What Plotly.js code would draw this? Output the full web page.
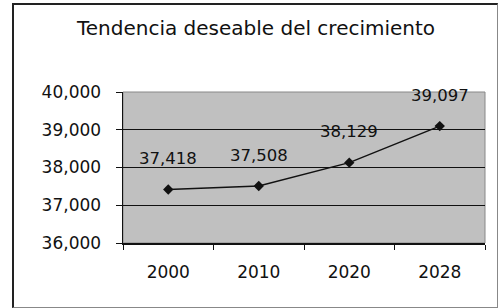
<!DOCTYPE html>
<html>
<head>
<meta charset="utf-8">
<script src="https://cdn.plot.ly/plotly-3.0.1.min.js"></script>
<style>
html,body{margin:0;padding:0;background:#fff;}
#wrap{position:relative;width:502px;height:308px;}
#chart{position:absolute;left:0;top:0;width:502px;height:308px;}
#frame{position:absolute;left:12px;top:3px;width:483px;height:302px;border-left:2px solid #222;border-top:2px solid #222;border-right:1px solid #888;border-bottom:1px solid #888;pointer-events:none;}
</style>
</head>
<body>
<div id="wrap"><div id="chart"></div><div id="frame"></div></div>
<script>
var years = ["2000", "2010", "2020", "2028"];
var values = [37418, 37508, 38129, 39097];
var labels = ["37,418", "37,508", "38,129", "39,097"];
var yTicks = [36000, 37000, 38000, 39000, 40000];
var yTickText = ["36,000", "37,000", "38,000", "39,000", "40,000"];

var font = "DejaVu Sans, Verdana, sans-serif";

var trace = {
  x: years, y: values, type: "scatter", mode: "lines+markers",
  line: {color: "#111", width: 1.5},
  marker: {symbol: "diamond", size: 8, color: "#111"},
  hoverinfo: "none"
};

var annotations = values.map(function (v, i) {
  return {x: i, y: v, text: labels[i], showarrow: false,
          xref: "x", yref: "y", yshift: 31, font: {family: font, size: 16.5, color: "#111"}};
});

var layout = {
  width: 502, height: 308,
  margin: {l: 123, r: 17, t: 92, b: 65},
  paper_bgcolor: "#fff", plot_bgcolor: "#c0c0c0",
  showlegend: false,
  title: {text: "Tendencia deseable del crecimiento", x: 0.51, xanchor: "center", xref: "container",
          y: 0.91, yanchor: "middle", font: {family: font, size: 20, color: "#111"}},
  xaxis: {type: "category", tickson: "boundaries", ticks: "outside", ticklen: 5, tickcolor: "#111",
          showline: true, linecolor: "#111", linewidth: 1.5, showgrid: false,
          ticklabelstandoff: 13,
          tickfont: {family: font, size: 17, color: "#111"}, range: [-0.5, 3.5], fixedrange: true},
  yaxis: {range: [36000, 40000], tickvals: yTicks, ticktext: yTickText, ticks: "outside", ticklen: 6,
          tickcolor: "#111", showline: true, linecolor: "#111", linewidth: 1.5,
          showgrid: true, gridcolor: "#111", gridwidth: 1.2, zeroline: false,
          ticklabelstandoff: 11,
          tickfont: {family: font, size: 17, color: "#111"}, fixedrange: true},
  annotations: annotations,
  shapes: [{type: "rect", xref: "paper", yref: "paper", x0: 0, x1: 1, y0: 0, y1: 1,
            line: {color: "#888", width: 1}, fillcolor: "rgba(0,0,0,0)", layer: "below"}]
};

Plotly.newPlot("chart", [trace], layout, {displayModeBar: false, staticPlot: true});
</script>
</body>
</html>
